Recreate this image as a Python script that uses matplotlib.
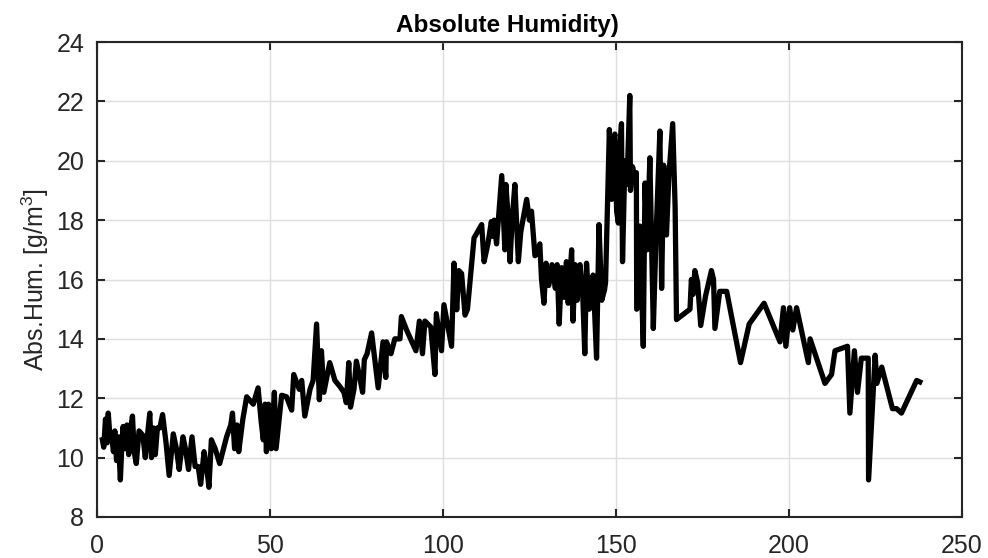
import matplotlib
matplotlib.use('Agg')
from matplotlib import pyplot as plt

plt.rcParams['font.family'] = ['Liberation Sans', 'DejaVu Sans']
plt.rcParams['mathtext.default'] = 'regular'

# sample index / day and absolute humidity (g/m^3)
day = [1.6, 2.0, 2.5, 3.0, 3.3, 3.8, 4.2, 4.8, 5.2, 5.7, 6.2, 6.8, 7.3, 7.6, 8.1, 8.7,
       9.2, 9.7, 10.3, 10.8, 11.4, 12.2, 13.3, 14.0, 14.5, 15.3, 15.8, 16.4, 16.9, 17.5,
       18.2, 19.0, 20.0, 20.9, 22.1, 23.0, 23.8, 24.9, 25.6, 26.5, 27.5, 28.4, 29.3, 30.0,
       31.0, 31.8, 32.4, 33.1, 34.2, 35.5, 37.5, 38.7, 39.2, 39.8, 40.5, 41.0, 42.2, 43.3,
       45.2, 46.6, 47.5, 48.1, 48.6, 49.0, 49.6, 50.4, 51.3, 51.8, 52.5, 53.4, 54.8, 56.3,
       56.9, 58.5, 59.2, 60.1, 61.6, 62.5, 63.5, 64.3, 64.9, 65.6, 67.3, 68.8, 70.2, 71.4,
       72.1, 72.8, 73.3, 74.3, 75.0, 75.8, 76.8, 77.3, 78.1, 79.4, 81.3, 82.7, 83.5, 83.7,
       85.0, 86.1, 87.6, 88.0, 89.5, 92.2, 93.2, 94.1, 94.8, 96.5, 97.7, 98.1, 99.6, 100.3,
       102.5, 103.2, 104.0, 104.6, 105.4, 106.4, 107.1, 109.0, 111.2, 111.9, 113.0, 114.0,
       114.5, 114.8, 115.5, 117.0, 117.9, 118.2, 118.8, 119.4, 120.0, 120.8, 121.8, 122.5,
       124.2, 125.0, 125.6, 126.6, 127.3, 128.0, 128.5, 129.2, 129.8, 130.6, 131.5, 132.5,
       133.0, 133.6, 134.3, 135.0, 135.7, 136.2, 137.2, 137.6, 138.2, 138.8, 139.6, 140.4,
       141.0, 141.5, 142.3, 143.4, 144.4, 145.1, 145.9, 146.7, 147.0, 148.1, 148.8, 149.2,
       149.7, 150.2, 150.7, 151.2, 151.6, 151.9, 152.6, 153.2, 154.0, 154.2, 154.8, 155.5,
       155.9, 156.0, 156.5, 156.9, 157.9, 158.4, 159.0, 159.8, 160.8, 161.6, 162.7, 163.2,
       163.8, 164.6, 165.3, 166.4, 167.1, 167.5, 171.4, 171.8, 172.3, 172.8, 173.6, 174.5,
       175.9, 177.6, 178.2, 178.6, 180.0, 182.0, 186.0, 188.5, 192.8, 197.4, 198.4, 199.1,
       200.2, 201.1, 202.2, 205.6, 206.1, 210.4, 212.3, 213.3, 216.9, 217.6, 218.9, 219.8,
       220.9, 222.9, 223.0, 224.9, 225.4, 226.8, 229.9, 231.1, 232.5, 236.9, 237.8]
abs_hum = [10.6, 10.35, 11.3, 10.5, 11.5, 10.7, 10.85, 10.2, 10.9, 9.9, 10.7, 9.25, 10.6, 11.05, 10.3, 11.1,
           10.1, 10.9, 11.4, 10.2, 9.8, 10.9, 10.75, 10.0, 10.6, 11.5, 10.0, 11.0, 10.1, 11.0,
           11.0, 11.45, 10.5, 9.4, 10.8, 10.3, 9.6, 10.7, 10.3, 9.6, 10.7, 9.7, 9.7, 9.1,
           10.2, 9.6, 9.0, 10.6, 10.3, 9.8, 10.7, 11.1, 11.5, 10.3, 11.1, 10.2, 11.3, 12.05,
           11.8, 12.35, 11.2, 10.6, 11.8, 10.2, 11.8, 10.3, 12.2, 10.3, 11.1, 12.1, 12.05, 11.6,
           12.8, 12.3, 12.6, 11.4, 12.3, 12.6, 14.5, 11.95, 13.6, 12.2, 13.2, 12.6, 12.4, 12.2,
           11.85, 13.2, 11.7, 12.3, 13.25, 12.8, 12.2, 13.3, 13.5, 14.2, 12.35, 13.9, 12.7, 13.9,
           13.5, 14.0, 14.0, 14.75, 14.3, 13.6, 14.6, 13.5, 14.6, 14.4, 12.8, 14.85, 13.6, 15.15,
           13.75, 16.55, 14.98, 16.3, 16.2, 14.8, 15.0, 17.4, 17.85, 16.6, 17.2, 17.95,
           17.45, 18.0, 17.2, 19.5, 17.0, 19.2, 18.2, 16.6, 18.0, 19.2, 16.6, 17.6,
           18.7, 18.0, 18.3, 16.8, 16.9, 17.2, 16.0, 15.2, 16.55, 15.8, 16.5, 15.7,
           16.5, 14.5, 16.4, 15.4, 16.6, 15.2, 17.0, 14.6, 16.5, 15.3, 16.5, 15.5,
           13.5, 16.55, 15.0, 16.15, 13.35, 17.85, 15.3, 15.65, 15.9, 21.05, 18.7, 20.6,
           20.9, 18.3, 17.9, 20.5, 21.25, 16.6, 20.0, 19.2, 22.2, 19.0, 19.8, 19.4,
           19.6, 15.0, 15.1, 17.8, 13.75, 19.25, 17.0, 20.1, 14.35, 17.5, 21.0, 15.7,
           19.85, 17.5, 19.5, 21.25, 18.45, 14.65, 15.0, 16.0, 15.5, 16.3, 15.9, 14.45,
           15.45, 16.3, 16.0, 14.35, 15.6, 15.6, 13.2, 14.5, 15.2, 13.9, 15.05, 13.75,
           15.05, 14.3, 15.05, 13.2, 14.0, 12.5, 12.8, 13.6, 13.75, 11.5, 13.6, 12.2,
           13.35, 13.35, 9.25, 13.45, 12.5, 13.05, 11.65, 11.65, 11.5, 12.6, 12.55]

x_ticks = [0, 50, 100, 150, 200, 250]
y_ticks = [8, 10, 12, 14, 16, 18, 20, 22, 24]

fig = plt.figure(figsize=(9.88, 5.58), dpi=100)
ax = fig.add_axes([0.098, 0.0735, 0.8757, 0.8512])

ax.plot(day, abs_hum, color='black', linewidth=3.8, solid_joinstyle='round')

ax.set_xlim(0, 250)
ax.set_ylim(8, 24)
ax.set_xticks(x_ticks)
ax.set_yticks(y_ticks)
ax.grid(True, color='#dedede', linewidth=1.0)
ax.set_axisbelow(True)

for s in ax.spines.values():
    s.set_color('#262626')
    s.set_linewidth(1.5)
ax.tick_params(direction='in', length=6, width=1.5, color='#262626',
               top=True, right=True, labelsize=18, labelcolor='#262626')
ax.tick_params(axis='x', pad=12)
ax.tick_params(axis='y', pad=9)

ax.set_ylabel('Abs.Hum. [g/m$^3$]', fontsize=18, color='#262626', labelpad=4)
ax.set_title('Absolute Humidity)', fontsize=17.5, fontweight='bold', pad=7, x=0.475)

fig.savefig('out.png', dpi=100)
